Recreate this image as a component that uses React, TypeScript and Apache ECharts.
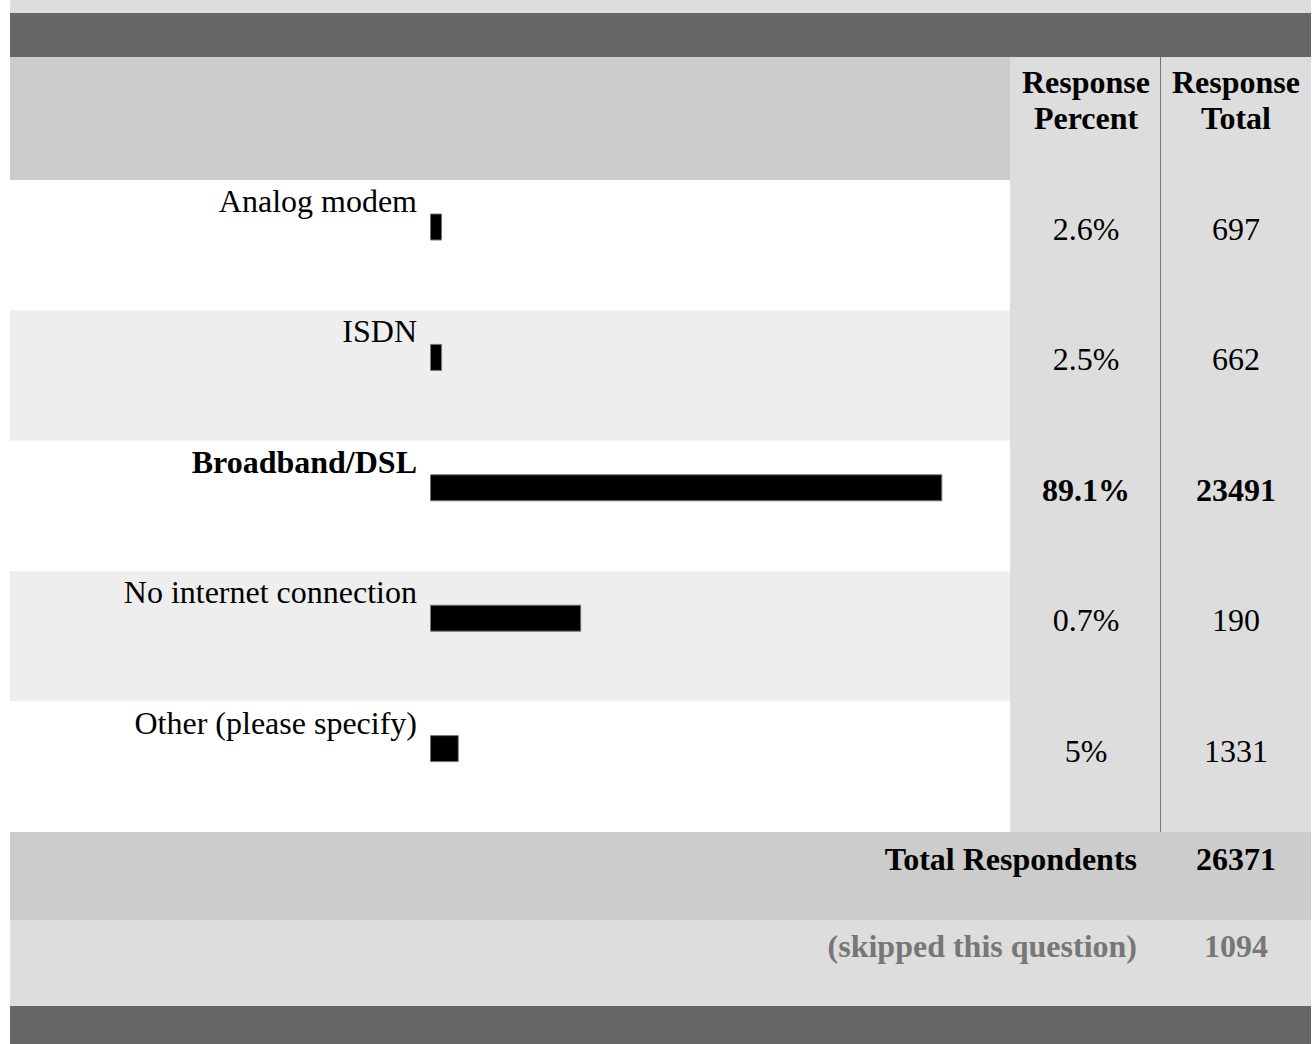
import React, { useEffect, useRef } from "react";
import * as echarts from "echarts";

// ---- data ----
const categories = [
  "Analog modem",
  "ISDN",
  "Broadband/DSL",
  "No internet connection",
  "Other (please specify)",
];
const responsePercent = ["2.6%", "2.5%", "89.1%", "0.7%", "5%"];
const responseTotal = [697, 662, 23491, 190, 1331];
// bar lengths as drawn in the picture, in % of the bar track
const barLength = [2.1, 2.1, 89.1, 26.3, 5.0];
const highlighted = [false, false, true, false, false];
const headerPercent = ["Response", "Percent"];
const headerTotal = ["Response", "Total"];
const totalLabel = "Total Respondents";
const totalRespondents = 26371;
const skippedLabel = "(skipped this question)";
const skippedCount = 1094;

// ---- layout ----
const W = 1316;
const H = 1044;
const FONT = "'Liberation Serif', 'Times New Roman', serif";
const TL = 10;
const TR = 1311;
const ROW_TOP = 180;
const ROW_H = 130.4;
const COL1 = 1010;
const COL_SEP = 1160;
const PCT_X = 1086;
const TOT_X = 1236;
const BAR_LEFT = 430;
const BAR_TRACK = 575;
const BAR_OFFSET = 47; // bar centre below row top

function rect(x: number, y: number, w: number, h: number, fill: string) {
  return { type: "rect", z: -10, silent: true, shape: { x, y, width: w, height: h }, style: { fill } };
}
function text(
  x: number,
  y: number,
  t: string,
  opts: { bold?: boolean; align?: string; fill?: string } = {}
) {
  return {
    type: "text",
    z: 5,
    x,
    y,
    silent: true,
    style: {
      text: t,
      fill: opts.fill || "#000",
      fontSize: 32,
      fontFamily: FONT,
      fontWeight: opts.bold ? "bold" : "normal",
      align: opts.align || "center",
      verticalAlign: "middle",
    },
  };
}

export default function App() {
  const ref = useRef<HTMLDivElement>(null);

  useEffect(() => {
    if (!ref.current) return;
    const chart = echarts.init(ref.current, undefined, { renderer: "svg" });

    const n = categories.length;
    const rowsEnd = ROW_TOP + ROW_H * n;
    const els: any[] = [];
    // top strip and dark band
    els.push(rect(TL, 0, TR - TL, 13, "#dddddd"));
    els.push(rect(TL, 13, TR - TL, 44, "#666666"));
    // header
    els.push(rect(TL, 57, COL1 - TL, ROW_TOP - 57, "#cccccc"));
    els.push(rect(COL1, 57, TR - COL1, rowsEnd - 57, "#dddddd"));
    // rows
    for (let i = 0; i < n; i++) {
      els.push(rect(TL, ROW_TOP + i * ROW_H, COL1 - TL, ROW_H, i % 2 === 0 ? "#ffffff" : "#eeeeee"));
    }
    // column separator
    els.push({
      type: "line",
      z: -5,
      silent: true,
      shape: { x1: COL_SEP + 0.5, y1: 57, x2: COL_SEP + 0.5, y2: rowsEnd },
      style: { stroke: "#777777", lineWidth: 1 },
    });
    // totals
    els.push(rect(TL, rowsEnd, TR - TL, 88, "#cccccc"));
    els.push(rect(TL, rowsEnd + 88, TR - TL, 86, "#dddddd"));
    els.push(rect(TL, rowsEnd + 174, TR - TL, H - (rowsEnd + 174), "#666666"));

    // header texts
    els.push(text(PCT_X, 82, headerPercent[0], { bold: true }));
    els.push(text(PCT_X, 118, headerPercent[1], { bold: true }));
    els.push(text(TOT_X, 82, headerTotal[0], { bold: true }));
    els.push(text(TOT_X, 118, headerTotal[1], { bold: true }));

    // value columns
    for (let i = 0; i < n; i++) {
      const y = ROW_TOP + i * ROW_H + 49;
      els.push(text(PCT_X, y, responsePercent[i], { bold: highlighted[i] }));
      els.push(text(TOT_X, y, String(responseTotal[i]), { bold: highlighted[i] }));
    }

    // totals text
    els.push(text(1137, rowsEnd + 27, totalLabel, { bold: true, align: "right" }));
    els.push(text(TOT_X, rowsEnd + 27, String(totalRespondents), { bold: true }));
    els.push(text(1137, rowsEnd + 114, skippedLabel, { bold: true, align: "right", fill: "#777777" }));
    els.push(text(TOT_X, rowsEnd + 114, String(skippedCount), { bold: true, fill: "#777777" }));

    const gridTop = ROW_TOP + BAR_OFFSET - ROW_H / 2;

    chart.setOption({
      animation: false,
      backgroundColor: "#ffffff",
      graphic: { elements: els },
      grid: {
        left: BAR_LEFT,
        top: gridTop,
        width: BAR_TRACK,
        height: ROW_H * n,
        containLabel: false,
      },
      xAxis: {
        type: "value",
        min: 0,
        max: 100,
        show: false,
      },
      yAxis: {
        type: "category",
        inverse: true,
        data: categories,
        z: 5,
        axisLine: { show: false },
        axisTick: { show: false },
        splitLine: { show: false },
        axisLabel: {
          margin: 13,
          padding: [0, 0, 52, 0],
          color: "#000",
          fontSize: 32,
          fontFamily: FONT,
          formatter: (v: string, i: number) => (highlighted[i] ? `{b|${v}}` : `{r|${v}}`),
          rich: {
            b: { fontWeight: "bold", fontSize: 32, fontFamily: FONT, color: "#000" },
            r: { fontWeight: "normal", fontSize: 32, fontFamily: FONT, color: "#000" },
          },
        },
      },
      series: [
        {
          type: "bar",
          z: 10,
          data: barLength,
          barWidth: 27,
          itemStyle: { color: "#000000", borderColor: "#777777", borderWidth: 1 },
          silent: true,
        },
      ],
    });

    return () => chart.dispose();
  }, []);

  return (
    <div
      ref={ref}
      style={{ position: "absolute", left: 0, top: 0, width: W, height: H, background: "#fff" }}
    />
  );
}
